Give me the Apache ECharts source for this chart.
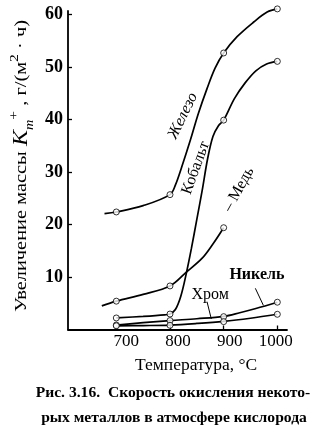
<!DOCTYPE html>
<html><head><meta charset="utf-8">
<script src="https://cdn.jsdelivr.net/npm/echarts@6/dist/echarts.min.js"></script>
<style>html,body{margin:0;padding:0;background:#fff}#c{width:328px;height:434px}</style>
</head><body><div id="c"></div>
<script>
const xTickValues = [700, 800, 900, 1000];
const yTickValues = [10, 20, 30, 40, 50, 60];

const ironPoints = [[700, 22.4], [800, 25.7], [900, 52.7], [1000, 61.1]];
const ironCurve = [[678, 22.1], [700, 22.4], [750, 23.6], [800, 25.7], [810, 27.5], [822, 31.0], [838, 36.1], [853, 41.2], [869, 45.9], [884, 49.8], [900, 52.7], [925, 55.8], [956, 58.6], [981, 60.5], [1000, 61.1]];

const cobaltPoints = [[700, 2.2], [800, 2.95], [900, 39.9], [1000, 51.1]];
const cobaltCurve = [[700, 2.2], [750, 2.5], [790, 2.8], [800, 2.95], [810, 3.8], [820, 6.3], [830, 10.5], [840, 15.5], [850, 21], [860, 26.5], [870, 32.5], [880, 36.8], [890, 38.8], [900, 39.9], [920, 44], [940, 47], [960, 49.3], [980, 50.6], [1000, 51.1]];

const copperPoints = [[700, 5.4], [800, 8.3], [900, 19.4]];
const copperCurve = [[673, 4.5], [700, 5.4], [750, 6.7], [800, 8.3], [830, 10.9], [860, 13.6], [880, 16.3], [900, 19.4]];

const nickelPoints = [[700, 0.85], [800, 1.7], [900, 2.45], [1000, 5.2]];
const nickelCurve = [[700, 0.85], [750, 1.3], [800, 1.7], [850, 2.05], [900, 2.5], [930, 3.2], [960, 4.0], [1000, 5.2]];

const chromePoints = [[700, 0.7], [800, 0.8], [900, 1.5], [1000, 2.9]];
const chromeCurve = [[700, 0.7], [750, 0.75], [800, 0.85], [850, 1.15], [900, 1.55], [950, 2.15], [1000, 2.9]];

const SERIF = '"Liberation Serif","DejaVu Serif",serif';
const chart = echarts.init(document.getElementById('c'), null, {renderer: 'canvas'});

function curve(data) {
  return {type: 'line', data: data, smooth: 0.35, showSymbol: false, clip: false, silent: true,
    lineStyle: {color: '#000', width: 1.7}, z: 2};
}
function pts(data) {
  return {type: 'scatter', data: data, symbol: 'circle', symbolSize: 6, clip: false, silent: true,
    itemStyle: {color: '#fff', borderColor: '#000', borderWidth: 1}, z: 5};
}

chart.setOption({
  animation: false,
  backgroundColor: '#fff',
  grid: {left: 68, right: 41, top: 11, bottom: 104.5},
  xAxis: {
    type: 'value', min: 610, max: 1018,
    axisLine: {lineStyle: {color: '#000', width: 1.8}},
    axisTick: {inside: true, length: 4, lineStyle: {color: '#000', width: 1.3}, customValues: xTickValues},
    axisLabel: {customValues: xTickValues, color: '#000', fontFamily: SERIF, fontSize: 17, margin: 4,
      formatter: function (v) {
        const map = {700: 'a', 800: 'b', 900: 'c', 1000: 'd'};
        return '{' + map[v] + '|' + v + '}';
      },
      rich: {
        a: {fontFamily: SERIF, fontSize: 17, color: '#000', padding: [0, 0, 0, 20]},
        b: {fontFamily: SERIF, fontSize: 17, color: '#000', padding: [0, 0, 0, 16]},
        c: {fontFamily: SERIF, fontSize: 17, color: '#000', padding: [0, 0, 0, 12]},
        d: {fontFamily: SERIF, fontSize: 17, color: '#000', padding: [0, 3, 0, 0]}
      }},
    splitLine: {show: false}
  },
  yAxis: {
    type: 'value', min: 0, max: 60.7,
    axisLine: {show: true, lineStyle: {color: '#000', width: 1.8}},
    axisTick: {show: true, inside: true, length: 4, lineStyle: {color: '#000', width: 1.3}, customValues: yTickValues},
    axisLabel: {customValues: yTickValues, color: '#000', fontFamily: SERIF, fontSize: 18, fontWeight: 'bold', margin: 5},
    splitLine: {show: false}
  },
  series: [
    curve(ironCurve), curve(cobaltCurve), curve(copperCurve), curve(nickelCurve), curve(chromeCurve),
    pts(ironPoints), pts(cobaltPoints), pts(copperPoints), pts(nickelPoints), pts(chromePoints)
  ]
});

function P(x, y) { return chart.convertToPixel({gridIndex: 0}, [x, y]); }
function rotText(txt, at, deg, extra) {
  const p = P(at[0], at[1]);
  return {type: 'text', x: p[0], y: p[1], rotation: deg * Math.PI / 180, z: 10,
    style: Object.assign({text: txt, fill: '#000', font: '16px ' + SERIF, align: 'center', verticalAlign: 'middle'}, extra || {})};
}
function leader(a, b) {
  const p = P(a[0], a[1]), q = P(b[0], b[1]);
  return {type: 'line', z: 10, shape: {x1: p[0], y1: p[1], x2: q[0], y2: q[1]}, style: {stroke: '#000', lineWidth: 1}};
}

const ironLabelAt = [824, 40.7];
const cobaltLabelAt = [848, 30.8];
const copperLabelAt = [928, 26.7];
const chromeLabelAt = [875, 6.7];
const nickelLabelAt = [962, 10.4];

chart.setOption({
  graphic: [
    rotText('Железо', ironLabelAt, 64, {font: 'italic 16px ' + SERIF}),
    rotText('Кобальт', cobaltLabelAt, 70),
    rotText('– Медь', copperLabelAt, 61),
    rotText('Хром', chromeLabelAt, 0),
    rotText('Никель', nickelLabelAt, 0, {font: 'bold 16px ' + SERIF}),
    leader([959, 7.85], [974, 4.6]),
    leader([869, 5.3], [877, 2.0]),
    {type: 'text', x: 22, y: 166, rotation: Math.PI / 2, scaleX: 1.2, z: 10,
      style: {
        text: '{t|Увеличение массы }{k|K}{sub|m}{sup|+}{t| , г/(м}{sup|2}{t| · ч)}',
        align: 'center', verticalAlign: 'middle', fill: '#000',
        rich: {
          t: {font: '17px ' + SERIF, fill: '#000', lineHeight: 28, verticalAlign: 'middle'},
          k: {font: 'italic 20px ' + SERIF, fill: '#000', lineHeight: 28, verticalAlign: 'middle'},
          sub: {font: 'italic 12px ' + SERIF, fill: '#000', lineHeight: 28, verticalAlign: 'bottom'},
          sup: {font: '13px ' + SERIF, fill: '#000', lineHeight: 28, verticalAlign: 'top'}
        }
      }},
    {type: 'text', x: 196, y: 365, z: 10,
      style: {text: 'Температура, °C', font: '17.5px ' + SERIF, fill: '#000', align: 'center', verticalAlign: 'middle'}},
    {type: 'text', x: 173, y: 393, z: 10,
      style: {text: 'Рис. 3.16.  Скорость окисления некото-', font: 'bold 15.6px ' + SERIF, fill: '#000', align: 'center', verticalAlign: 'middle'}},
    {type: 'text', x: 174, y: 418, z: 10,
      style: {text: 'рых металлов в атмосфере кислорода', font: 'bold 15.6px ' + SERIF, fill: '#000', align: 'center', verticalAlign: 'middle'}}
  ]
});
</script>
</body></html>
